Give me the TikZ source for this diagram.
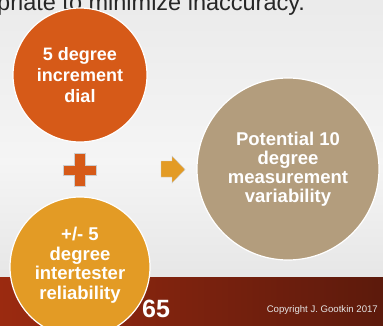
\documentclass[tikz,border=0pt]{standalone}
\usepackage{fontspec}
\setmainfont{Liberation Sans}
\usetikzlibrary{calc,positioning}
\definecolor{rust}{HTML}{D65A18}
\definecolor{amber}{HTML}{E39B25}
\definecolor{khaki}{HTML}{B39D7D}
\definecolor{barl}{HTML}{9B2A10}
\definecolor{barm}{HTML}{A72E10}
\definecolor{barr}{HTML}{5C1A0C}
\begin{document}
\begin{tikzpicture}[x=1pt,y=-1pt,
 blob/.style={circle, draw=white, line width=1.2pt, text=white, align=center, inner sep=0pt, font=\bfseries\fontsize{18}{21}\selectfont},
 sym/.style={draw=white!80!black, line width=0.4pt}]
\useasboundingbox (0,0) rectangle (383,325);
\clip (0,0) rectangle (383,325);
% backdrop and footer bar
\shade[top color=white!92!black, bottom color=white!88!black, middle color=white!96!black] (0,0) rectangle (383,325);
\shade[left color=barl, middle color=barm, right color=barr] (0,277) rectangle (383,325);
\node[anchor=base west, inner sep=0pt, font=\fontsize{23.5}{26}\selectfont, text=black!85] (head) at (-3,10) {priate to minimize inaccuracy.};
% the three circles
\node[blob, fill=rust, minimum size=134pt] (dial) at (80,75) {5 degree\\increment\\dial};
\node[blob, fill=amber, minimum size=140pt] (rel) at (80,267) {};
\node[text=white, align=center, font=\bfseries\fontsize{18.5}{19.5}\selectfont] (reltxt) at (80,265) {+/- 5\\degree\\intertester\\reliability};
\node[blob, fill=khaki, minimum size=182pt, font=\bfseries\fontsize{18.5}{19}\selectfont] (var) at (288,169) {Potential 10\\degree\\measurement\\variability};
% plus and arrow
\fill[rust, sym] (74,153) -- (85,153) -- (85,165) -- (96,165) -- (96,175) -- (85,175) -- (85,186)
 -- (74,186) -- (74,175) -- (63,175) -- (63,165) -- (74,165) -- cycle;
\fill[amber, sym] (161,161) -- (172,161) -- (172,156) -- (185,169.5) -- (172,183) -- (172,177) -- (161,177) -- cycle;
% footer texts
\node[anchor=base west, inner sep=0pt, text=white, font=\bfseries\fontsize{25}{25}\selectfont] (pg) at (142,317) {65};
\node[anchor=base east, inner sep=0pt, text=white!90!black, font=\fontsize{9.6}{10}\selectfont] (copy) at (378,312) {Copyright J. Gootkin 2017};
\end{tikzpicture}
\end{document}
